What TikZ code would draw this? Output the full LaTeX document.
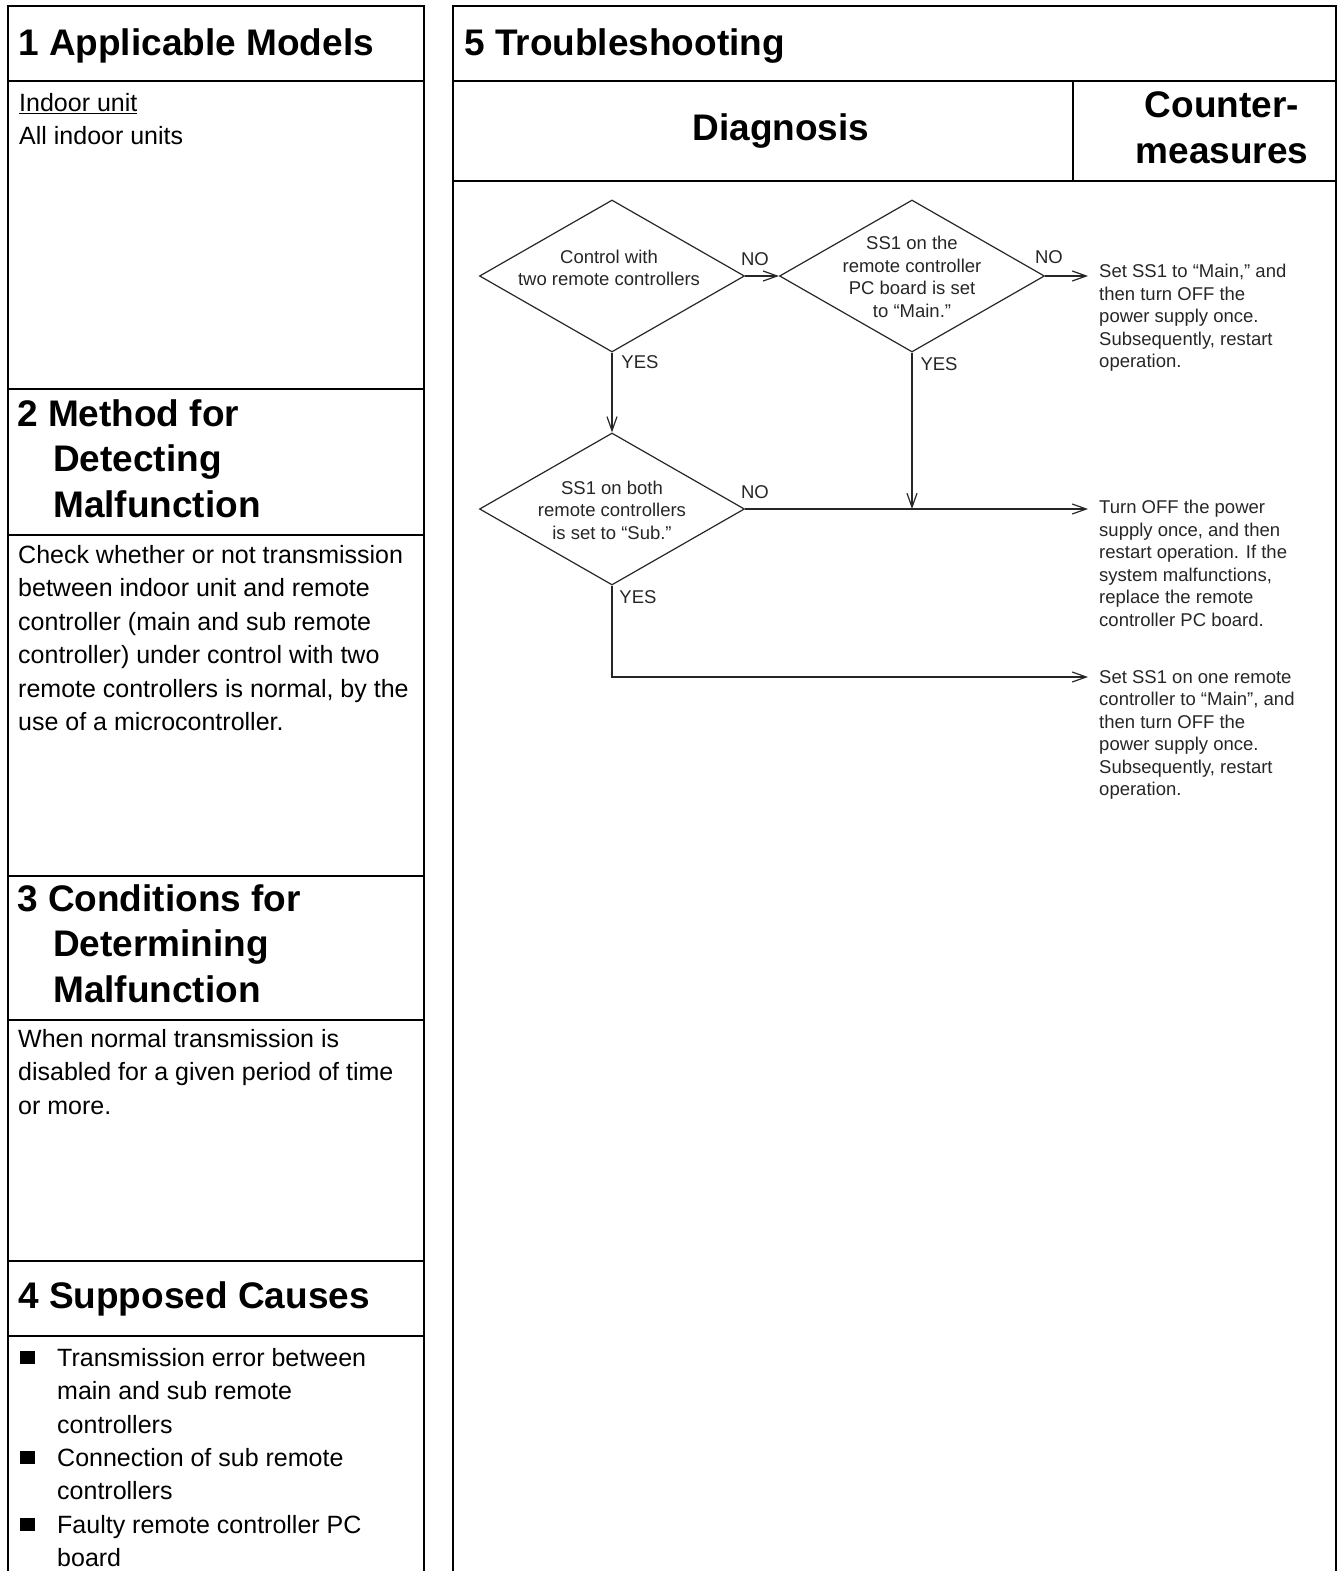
\documentclass[tikz,border=0pt]{standalone}
\usepackage{fontspec}
\setmainfont{Liberation Sans}
\usetikzlibrary{shapes.geometric,arrows.meta}

\tikzset{
  frame/.style={line width=2.2pt},
  hdr/.style={anchor=north west, inner sep=0pt, align=left, font=\fontsize{37}{45.5}\selectfont\bfseries},
  body/.style={anchor=north west, inner sep=0pt, align=left, font=\fontsize{25}{33.5}\selectfont},
  decision/.style={diamond, draw=black!85, line width=1.2pt, minimum width=265pt, minimum height=152pt, inner sep=0pt},
  small/.style={inner sep=0pt, align=center, font=\fontsize{18.5}{22.5}\selectfont, text=black!85},
  reply/.style={anchor=north west, inner sep=0pt, align=left, font=\fontsize{18.5}{22.5}\selectfont, text=black!85},
  flow/.style={draw=black!85, line width=1.2pt, -{Straight Barb[length=14pt,width=10pt]}},
}

\begin{document}
\begin{tikzpicture}[x=1pt, y=-1pt]
\useasboundingbox (0,0) rectangle (1338,1571);

% left column frame and section rules
\draw[frame] (8,1575) -- (8,6) -- (424,6) -- (424,1575);
\foreach \y in {81,389,535,876,1020,1261,1336}
  \draw[frame] (8,\y) -- (424,\y);

% right column frame
\draw[frame] (453,1575) -- (453,6) -- (1336,6) -- (1336,1575);
\draw[frame] (453,81) -- (1336,81);
\draw[frame] (453,181) -- (1336,181);
\draw[frame] (1073,81) -- (1073,181);

% section texts
\node[hdr] (h1) at (18,28) {1 Applicable Models};
\node[body] (b1) at (19,93) {\underline{Indoor unit}\\All indoor units};

\node[hdr] (h2) at (17,399) {2 Method for\\\hspace*{36pt}Detecting\\\hspace*{36pt}Malfunction};
\node[body] (b2) at (18,545) {Check whether or not transmission\\between indoor unit and remote\\controller (main and sub remote\\controller) under control with two\\remote controllers is normal, by the\\use of a microcontroller.};

\node[hdr] (h3) at (17,884) {3 Conditions for\\\hspace*{36pt}Determining\\\hspace*{36pt}Malfunction};
\node[body] (b3) at (18,1029) {When normal transmission is\\disabled for a given period of time\\or more.};

\node[hdr] (h4) at (18,1281) {4 Supposed Causes};
\node[body] (i1) at (57,1348) {Transmission error between\\main and sub remote\\controllers};
\node[body] (i2) at (57,1448) {Connection of sub remote\\controllers};
\node[body] (i3) at (57,1515) {Faulty remote controller PC\\board};
\foreach \y in {1351,1451,1518}
  \fill (20,\y) rectangle +(15,13);

% troubleshooting headings
\node[hdr] (h5) at (464,28) {5 Troubleshooting};
\node[hdr, anchor=center] (diag) at (781,131) {Diagnosis};
\node[hdr, anchor=center, align=center] (cm) at (1222,128) {Counter-\\measures};

% decisions
\node[decision] (d1) at (612,276) {};
\node[small] (t1) at (609,268) {Control with\\two remote controllers};
\node[decision] (d2) at (912,276) {};
\node[small] (t2) at (912,277) {SS1 on the\\remote controller\\PC board is set\\to “Main.”};
\node[decision] (d3) at (612,509) {};
\node[small] (t3) at (612,510) {SS1 on both\\remote controllers\\is set to “Sub.”};

% countermeasures
\node[reply] (c1) at (1099,264) {Set SS1 to “Main,” and\\then turn OFF the\\power supply once.\\Subsequently, restart\\operation.};
\node[reply] (c2) at (1099,500) {Turn OFF the power\\supply once, and then\\restart operation. If the\\system malfunctions,\\replace the remote\\controller PC board.};
\node[reply] (c3) at (1099,670) {Set SS1 on one remote\\controller to “Main”, and\\then turn OFF the\\power supply once.\\Subsequently, restart\\operation.};

\coordinate (a1) at (1088,276);
\coordinate (a2) at (1088,509);
\coordinate (a3) at (1088,677);
\coordinate (j) at (912,509);

% branches
\draw[flow] (d1.east) -- (d2.west);
\draw[flow] (d1.south) -- (d3.north);
\draw[flow] (d2.east) -- (a1);
\draw[flow] (d2.south) -- (j);
\draw[flow] (d3.east) -- (a2);
\draw[flow] (d3.south) |- (a3);

\node[small] (n1) at (755,259) {NO};
\node[small] (y1) at (640,362) {YES};
\node[small] (n2) at (1049,257) {NO};
\node[small] (y2) at (939,364) {YES};
\node[small] (n3) at (755,492) {NO};
\node[small] (y3) at (638,597) {YES};
\end{tikzpicture}
\end{document}
